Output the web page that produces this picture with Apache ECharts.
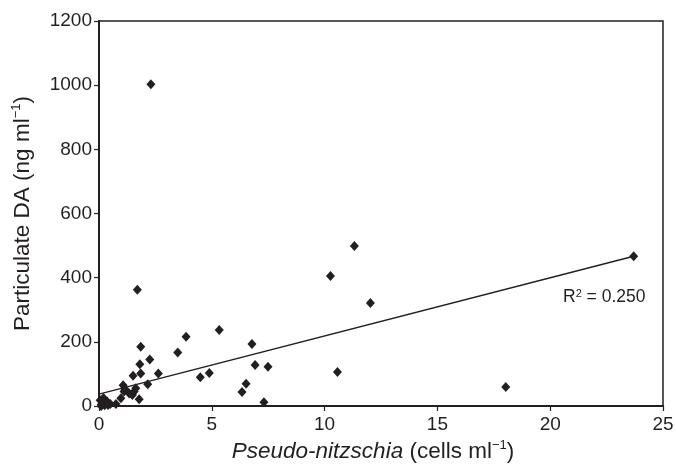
<!DOCTYPE html>
<html>
<head>
<meta charset="utf-8">
<script src="https://cdn.jsdelivr.net/npm/echarts@6/dist/echarts.min.js"></script>
<style>html,body{margin:0;padding:0;background:#fff;}#c{width:676px;height:466px;}</style>
</head>
<body>
<div id="c"></div>
<script>
// Pseudo-nitzschia (cells ml-1)
var cellsX = [0.05,0.1,0.15,0.2,0.25,0.3,0.35,0.4,0.5,0.1,0.75,0.97,1.07,1.11,1.16,1.34,1.48,1.56,1.63,1.78,1.51,1.85,1.81,1.85,2.25,2.63,2.16,1.7,2.3,3.49,3.86,4.49,4.89,5.33,6.34,6.52,6.78,6.92,7.31,7.49,10.26,10.57,11.32,12.03,18.03,23.7];
// Particulate DA (ng ml-1)
var daY = [18,5,12,25,2,8,15,3,6,0,6,24,65,45,52,39,34,45,55,21,94,101,130,185,145,101,68,362,1003,167,216,90,103,237,44,69,193,128,12,122,405,106,499,321,59,467];
// Linear fit endpoints
var fitX = [0, 23.7];
var fitY = [37, 467];
var xTicks = [0,5,10,15,20,25];
var yTicks = [0,200,400,600,800,1000,1200];
var r2Text = '0.250';

var ink = '#231f20';
var font = '"Liberation Sans", Arial, Helvetica, sans-serif';
var chart = echarts.init(document.getElementById('c'));
var pts = cellsX.map(function(x,i){return [x, daY[i]];});
var fit = fitX.map(function(x,i){return [x, fitY[i]];});
chart.setOption({
  animation:false,
  grid:{left:99,right:13,top:21,bottom:60,containLabel:false,outerBoundsMode:'none',show:true,borderColor:ink,borderWidth:1.5,backgroundColor:'transparent'},
  xAxis:{type:'value',min:xTicks[0],max:xTicks[xTicks.length-1],interval:5,
    axisLine:{lineStyle:{color:ink,width:2}},
    axisTick:{show:true,length:5,inside:false,lineStyle:{color:ink,width:1.2}},
    splitLine:{show:false},
    axisLabel:{color:ink,fontSize:19,fontFamily:font,margin:9,formatter:function(v){return String(v);}},
    name:'{it|Pseudo-nitzschia} {n|(cells ml}{sup|\u22121}{n|)}',
    nameLocation:'middle',nameGap:28,
    nameTextStyle:{color:ink,fontFamily:font,fontSize:22.5,padding:[0,16,0,0],
      rich:{it:{fontStyle:'italic',fontSize:22.5,fontFamily:font,color:ink,lineHeight:26},
            n:{fontSize:22.5,fontFamily:font,color:ink,lineHeight:26},
            sup:{fontSize:13,fontFamily:font,color:ink,verticalAlign:'top',lineHeight:26,padding:[0,0,9,0]}}}
  },
  yAxis:{type:'value',min:yTicks[0],max:yTicks[yTicks.length-1],interval:200,
    axisLine:{show:true,lineStyle:{color:ink,width:2}},
    axisTick:{show:true,length:5,inside:false,lineStyle:{color:ink,width:1.2}},
    splitLine:{show:false},
    axisLabel:{color:ink,fontSize:19,fontFamily:font,margin:7,formatter:function(v){return String(v);}},
    name:'{n|Particulate DA (ng ml}{sup|\u22121}{n|)}',
    nameLocation:'middle',nameGap:63,
    nameTextStyle:{color:ink,fontFamily:font,fontSize:22.5,
      rich:{n:{fontSize:22.5,fontFamily:font,color:ink,lineHeight:26},
            sup:{fontSize:13,fontFamily:font,color:ink,verticalAlign:'top',lineHeight:26,padding:[0,0,9,0]}}}
  },
  series:[
    {type:'scatter',data:pts,symbol:'diamond',symbolSize:[9,10],clip:false,
      itemStyle:{color:ink,opacity:1},z:3},
    {type:'line',data:fit,symbol:'none',lineStyle:{color:ink,width:1.5},z:2,silent:true}
  ],
  graphic:[{type:'text',left:563,top:288,
    style:{text:'R{sup|2} = '+r2Text,fill:ink,fontFamily:font,fontSize:17.5,
      rich:{sup:{fontSize:11,fontFamily:font,fill:ink,verticalAlign:'top',padding:[0,0,7,0]}}}}]
});
</script>
</body>
</html>
